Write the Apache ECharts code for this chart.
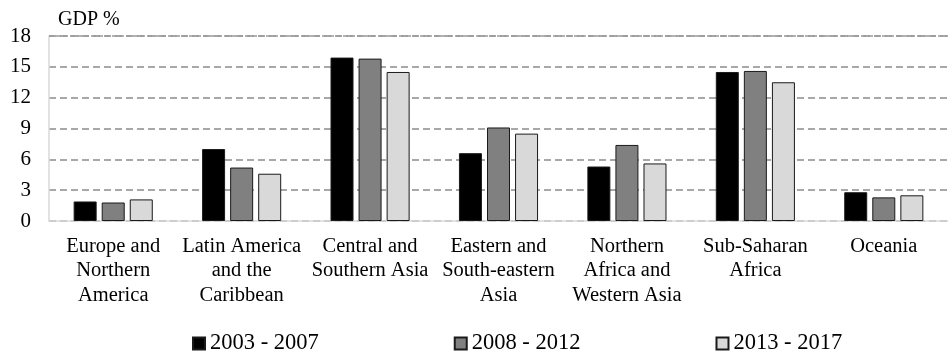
<!DOCTYPE html>
<html>
<head>
<meta charset="utf-8">
<script src="https://cdn.jsdelivr.net/npm/echarts@6/dist/echarts.min.js"></script>
<style>
  html, body { margin: 0; padding: 0; background: #fff; }
  #chart { width: 948px; height: 351px; }
</style>
</head>
<body>
<div id="chart"></div>
<script>
// Regions (multi-line labels as printed under the axis)
const regions = [
  'Europe and\nNorthern\nAmerica',
  'Latin America\nand the\nCaribbean',
  'Central and\nSouthern Asia',
  'Eastern and\nSouth-eastern\nAsia',
  'Northern\nAfrica and\nWestern Asia',
  'Sub-Saharan\nAfrica',
  'Oceania'
];

// Period names
const periods = ['2003 - 2007', '2008 - 2012', '2013 - 2017'];

// Share of GDP, %, per region for each period
const period1 = [1.9, 7.0, 15.9, 6.6, 5.3, 14.5, 2.8];
const period2 = [1.8, 5.2, 15.8, 9.1, 7.4, 14.6, 2.3];
const period3 = [2.1, 4.6, 14.5, 8.5, 5.6, 13.5, 2.5];

// Y axis range and step
const yMin = 0;
const yMax = 18;
const yStep = 3;

const FONT = "'Liberation Serif', 'Times New Roman', serif";
const fills = ['#000000', '#808080', '#d9d9d9'];

const chart = echarts.init(document.getElementById('chart'), null, { renderer: 'canvas' });

function makeSeries(name, values, color, idx) {
  const s = {
    name: name,
    type: 'bar',
    data: values,
    barWidth: 23,
    barGap: '22%',
    itemStyle: { color: color, borderColor: '#1a1a1a', borderWidth: 1 },
    emphasis: { disabled: true },
    animation: false
  };
  if (idx === 0) {
    // top edge of the plot frame
    s.markLine = {
      silent: true,
      symbol: 'none',
      label: { show: false },
      lineStyle: { color: '#9a9a9a', type: [5, 2], width: 1.5 },
      data: [{ yAxis: yMax }],
      animation: false
    };
  }
  return s;
}

chart.setOption({
  backgroundColor: '#ffffff',
  animation: false,
  textStyle: { fontFamily: FONT, color: '#000' },
  graphic: [{
    type: 'text',
    left: 58,
    top: 10,
    style: { text: 'GDP %', font: '20px ' + FONT, fill: '#000' }
  }],
  grid: { left: 49, right: -8, top: 36, bottom: 130, containLabel: false },
  legend: {
    data: periods,
    left: 187,
    top: 327,
    icon: 'rect',
    itemWidth: 12,
    itemHeight: 12,
    itemGap: 135,
    selectedMode: false,
    textStyle: { fontFamily: FONT, fontSize: 22.5, color: '#000' }
  },
  xAxis: {
    type: 'category',
    data: regions,
    axisLine: { show: true, lineStyle: { color: '#d9d9d9', width: 1.5 } },
    axisTick: { show: false },
    axisLabel: {
      interval: 0,
      margin: 13,
      fontFamily: FONT,
      fontSize: 20.5,
      lineHeight: 24.5,
      color: '#000',
      align: 'center'
    }
  },
  yAxis: {
    type: 'value',
    min: yMin,
    max: yMax,
    interval: yStep,
    axisLine: { show: true, lineStyle: { color: '#d9d9d9', width: 1.5 } },
    axisTick: { show: false },
    axisLabel: { margin: 18, fontFamily: FONT, fontSize: 21, color: '#000', padding: [5, 0, 0, 0] },
    splitLine: { show: true, lineStyle: { color: '#8c8c8c', type: [7, 4], width: 1.5 } }
  },
  series: [
    makeSeries(periods[0], period1, fills[0], 0),
    makeSeries(periods[1], period2, fills[1], 1),
    makeSeries(periods[2], period3, fills[2], 2)
  ]
});
</script>
</body>
</html>
